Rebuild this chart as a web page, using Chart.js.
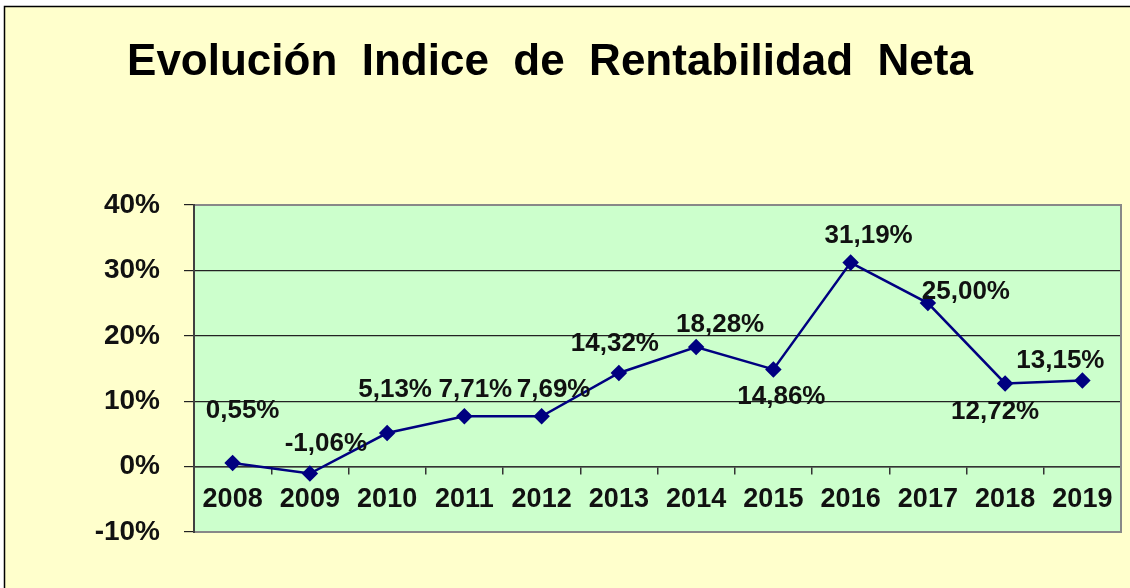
<!DOCTYPE html>
<html>
<head>
<meta charset="utf-8">
<script src="https://cdn.jsdelivr.net/npm/chart.js@4/dist/chart.umd.min.js"></script>
<style>
  html, body { margin: 0; padding: 0; background: #ffffff; }
  #wrap { width: 1130px; height: 588px; position: relative; }
</style>
</head>
<body>
<div id="wrap"><canvas id="c" width="1130" height="588"></canvas></div>
<script>
// ---- data ----
const years = ['2008', '2009', '2010', '2011', '2012', '2013', '2014', '2015', '2016', '2017', '2018', '2019'];
const rentabilidad = [0.55, -1.06, 5.13, 7.71, 7.69, 14.32, 18.28, 14.86, 31.19, 25.00, 12.72, 13.15];
const yMin = -10;
const yMax = 40;
const yStep = 10;
const titleText = 'Evolución  Indice  de  Rentabilidad  Neta';

const FONT = '"Liberation Sans", Arial, Helvetica, sans-serif';

// label placement (offsets relative to each point, in pixels)
const labelOffsets = [
  [10, -52], [16, -30], [8, -43], [11, -26], [12, -26], [-4, -29],
  [24, -22], [8, 27], [18, -27], [38, -11], [-10, 28], [-22, -20]
];

function fmt(v) {
  return v.toFixed(2).replace('.', ',') + '%';
}

const backgroundPlugin = {
  id: 'bg',
  beforeDraw(chart) {
    const ctx = chart.ctx;
    const ca = chart.chartArea;
    ctx.save();
    ctx.fillStyle = '#ffffff';
    ctx.fillRect(0, 0, chart.width, chart.height);
    ctx.fillStyle = '#FFFFCC';
    ctx.fillRect(5, 7, chart.width - 5, chart.height - 7);
    ctx.strokeStyle = '#000000';
    ctx.lineWidth = 1.5;
    ctx.beginPath();
    ctx.moveTo(4.5, chart.height);
    ctx.lineTo(4.5, 6.5);
    ctx.lineTo(chart.width, 6.5);
    ctx.stroke();
    ctx.fillStyle = '#CCFFCC';
    ctx.fillRect(ca.left, ca.top, ca.right - ca.left, ca.bottom - ca.top);
    // title
    ctx.fillStyle = '#000000';
    ctx.font = 'bold 44px ' + FONT;
    ctx.textAlign = 'center';
    ctx.textBaseline = 'alphabetic';
    ctx.fillText(titleText, 550, 75);
    ctx.restore();
  },
  beforeDatasetsDraw(chart) {
    const ctx = chart.ctx;
    const ca = chart.chartArea;
    ctx.save();
    ctx.strokeStyle = '#888888';
    ctx.lineWidth = 2;
    ctx.beginPath();
    ctx.moveTo(ca.left, ca.top);
    ctx.lineTo(ca.right, ca.top);
    ctx.lineTo(ca.right, ca.bottom);
    ctx.lineTo(ca.left, ca.bottom);
    ctx.stroke();
    ctx.strokeStyle = '#404040';
    ctx.lineWidth = 2;
    ctx.beginPath();
    ctx.moveTo(ca.left, ca.top - 1);
    ctx.lineTo(ca.left, ca.bottom + 1);
    ctx.stroke();
    ctx.restore();
  },
  afterDatasetsDraw(chart) {
    const ctx = chart.ctx;
    const meta = chart.getDatasetMeta(0);
    ctx.save();
    ctx.fillStyle = '#111111';
    ctx.font = 'bold 26px ' + FONT;
    ctx.textAlign = 'center';
    ctx.textBaseline = 'middle';
    meta.data.forEach((pt, i) => {
      const off = labelOffsets[i];
      ctx.fillText(fmt(rentabilidad[i]), pt.x + off[0], pt.y + off[1]);
    });
    ctx.restore();
  }
};

new Chart(document.getElementById('c'), {
  type: 'line',
  data: {
    labels: years,
    datasets: [{
      data: rentabilidad,
      borderColor: '#000080',
      backgroundColor: '#000080',
      borderWidth: 2.5,
      pointStyle: 'rectRot',
      pointRadius: 6.5,
      pointHoverRadius: 6.5,
      pointBackgroundColor: '#000080',
      pointBorderColor: '#000080',
      tension: 0,
      fill: false
    }]
  },
  options: {
    responsive: false,
    devicePixelRatio: 1,
    animation: false,
    layout: { padding: { left: 0, right: 3, top: 205, bottom: 56 } },
    plugins: {
      legend: { display: false },
      title: { display: false },
      tooltip: { enabled: false }
    },
    scales: {
      x: {
        position: { y: 0 },
        offset: true,
        grid: {
          offset: true,
          drawOnChartArea: false,
          drawTicks: true,
          tickLength: 7,
          color: '#333333',
          lineWidth: 1.5
        },
        border: { display: true, color: '#333333', width: 1.5 },
        ticks: {
          color: '#111111',
          font: { family: FONT, size: 27, weight: 'bold' },
          padding: 10,
          maxRotation: 0,
          autoSkip: false
        }
      },
      y: {
        min: yMin,
        max: yMax,
        afterFit(scale) { scale.width = 194; },
        grid: {
          color: '#222222',
          lineWidth: 1.2,
          tickLength: 10,
          drawTicks: true
        },
        border: { display: true, color: '#404040', width: 2 },
        ticks: {
          stepSize: yStep,
          color: '#111111',
          font: { family: FONT, size: 28, weight: 'bold' },
          padding: 24,
          callback: v => v + '%'
        }
      }
    }
  },
  plugins: [backgroundPlugin]
});
</script>
</body>
</html>
